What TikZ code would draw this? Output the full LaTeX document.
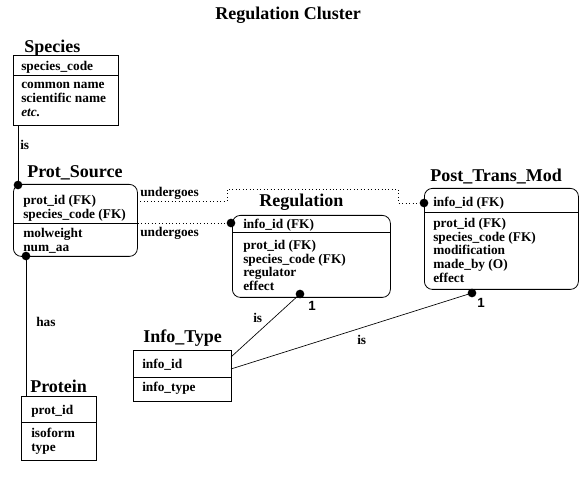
\documentclass[tikz,border=0pt]{standalone}
\usepackage{fontspec}
\setmainfont{Liberation Serif}
\newfontfamily\serfont{Liberation Serif}
\newfontfamily\onefont{Liberation Sans}
\begin{document}
\begin{tikzpicture}[x=0.75pt,y=0.75pt,yscale=-1,xscale=1,
  every node/.style={inner sep=0pt},
  entity/.style={draw,line width=0.6pt,anchor=north west},
  depent/.style={entity,rounded corners=6pt},
  ttl/.style={anchor=base west,font=\serfont\bfseries\fontsize{13.5}{16}\selectfont},
  fld/.style={anchor=north west,align=left,font=\serfont\bfseries\fontsize{10}{10.3}\selectfont},
  lbl/.style={anchor=base west,font=\serfont\bfseries\fontsize{10}{10}\selectfont},
  one/.style={anchor=base west,font=\onefont\bfseries\fontsize{10}{10}\selectfont},
  conn/.style={line width=0.6pt},
  rel/.style={line width=0.6pt,dotted},
  dot/.style={circle,fill,minimum size=6.5pt}]
\useasboundingbox (0,0) rectangle (587,488);

% Title
\node[ttl] (title) at (215,20) {Regulation Cluster};

%Shape: Species
\node[ttl] (speciesT) at (24,53) {Species};
\node[entity,minimum width=78.75pt,minimum height=52.5pt] (species) at (13,55) {};
\draw[conn] (13,75) -- (118,75);
\node[fld] (speciesK) at (21,61) {species\_code};
\node[fld] (speciesA) at (21,82) {common name\\scientific name\\\textit{etc.}};

%Shape: Prot_Source
\node[ttl] (psT) at (27,178) {Prot\_Source};
\node[depent,minimum width=93pt,minimum height=54pt] (ps) at (13,184) {};
\draw[conn] (13,223) -- (137,223);
\node[fld] (psK) at (23,195) {prot\_id (FK)\\species\_code (FK)};
\node[fld] (psA) at (23,228) {molweight\\num\_aa};

%Shape: Regulation
\node[ttl] (regT) at (259,207) {Regulation};
\node[depent,minimum width=118.5pt,minimum height=61.5pt] (reg) at (232,215) {};
\draw[conn] (232,232) -- (390,232);
\node[fld] (regK) at (243,219) {info\_id (FK)};
\node[fld] (regA) at (243,240) {prot\_id (FK)\\species\_code (FK)\\regulator\\effect};

%Shape: Post_Trans_Mod
\node[ttl] (ptmT) at (430,182) {Post\_Trans\_Mod};
\node[depent,minimum width=115.5pt,minimum height=75.75pt] (ptm) at (424,188) {};
\draw[conn] (424,212) -- (578,212);
\node[fld] (ptmK) at (433,197) {info\_id (FK)};
\node[fld] (ptmA) at (433,218) {prot\_id (FK)\\species\_code (FK)\\modification\\made\_by (O)\\effect};

%Shape: Info_Type
\node[ttl] (itT) at (143,343) {Info\_Type};
\node[entity,minimum width=73.5pt,minimum height=38.25pt] (it) at (133,350) {};
\draw[conn] (133,377) -- (231,377);
\node[fld] (itK) at (142,359) {info\_id};
\node[fld] (itA) at (142,382) {info\_type};

%Shape: Protein
\node[ttl] (protT) at (30,393) {Protein};
\node[entity,minimum width=56.25pt,minimum height=48pt] (prot) at (21,396) {};
\draw[conn] (21,422) -- (96,422);
\node[fld] (protK) at (31,405) {prot\_id};
\node[fld] (protA) at (31,428) {isoform\\type};

% Connectors
\coordinate (psTop) at (18,185);
\coordinate (psBot) at (26,256);
\coordinate (regIn) at (231,223);
\coordinate (ptmIn) at (424,203);
\coordinate (regOut) at (300,294);
\coordinate (ptmOut) at (472,293);
\coordinate (psOut) at (137,201);
\coordinate (itA1) at (231,357);
\coordinate (itA2) at (231,369);

\draw[conn] (species.south -| psTop) -- (psTop);
\draw[conn] (psBot) -- (prot.north -| psBot);
\draw[rel] (psOut) -| (227,189) -| (398,203) -- (ptmIn);
\draw[rel] (ps.east |- regIn) -- (regIn);
\draw[line width=0.5pt] (itA1) -- (regOut);
\draw[line width=0.5pt] (itA2) -- (ptmOut);

\node[dot] (d1) at (psTop) {};
\node[dot] (d2) at (psBot) {};
\node[dot] (d3) at (regIn) {};
\node[dot] (d4) at (ptmIn) {};
\node[dot] (d5) at (regOut) {};
\node[dot] (d6) at (ptmOut) {};

% Text Node
\node[lbl] (isA) at (20,150) {is};
\node[lbl] (und1) at (140,197) {undergoes};
\node[lbl] (und2) at (140,237) {undergoes};
\node[lbl] (hasA) at (36,327) {has};
\node[lbl] (isB) at (253,323) {is};
\node[lbl] (isC) at (357,345) {is};
\node[one] (oneA) at (308,311) {1};
\node[one] (oneB) at (477,308) {1};

\end{tikzpicture}
\end{document}
